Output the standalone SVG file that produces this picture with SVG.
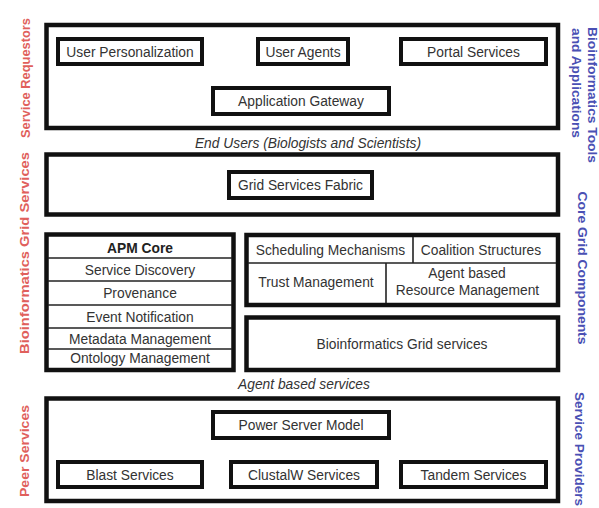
<svg xmlns="http://www.w3.org/2000/svg" width="599" height="508" viewBox="0 0 599 508">
<style>
.big{fill:#fff;stroke:#111;stroke-width:4.5}
.box{fill:#fff;stroke:#111;stroke-width:4}
.div{stroke:#222;stroke-width:1.6;fill:none}
.t{font-family:"Liberation Sans",Arial,sans-serif;font-size:13.8px;fill:#333;text-anchor:middle}
.b{font-weight:bold;fill:#222}
.i{font-style:italic}
.sl{font-family:"Liberation Sans",Arial,sans-serif;font-size:13.5px;font-weight:bold;fill:#e0605c}
.sr{font-family:"Liberation Sans",Arial,sans-serif;font-size:13.5px;font-weight:bold;fill:#4a50b4}
</style>
<rect width="599" height="508" fill="#fff"/>

<g id="side-labels">
<text class="sl" text-anchor="middle" transform="translate(30,78) rotate(-90)" textLength="120" lengthAdjust="spacingAndGlyphs">Service Requestors</text>
<text class="sl" text-anchor="middle" transform="translate(29,253) rotate(-90)" textLength="202" lengthAdjust="spacingAndGlyphs">Bioinformatics Grid Services</text>
<text class="sl" text-anchor="middle" transform="translate(29,451) rotate(-90)" textLength="92" lengthAdjust="spacingAndGlyphs">Peer Services</text>
<text class="sr" transform="translate(588,27) rotate(90)" textLength="136" lengthAdjust="spacingAndGlyphs">Bioinformatics Tools</text>
<text class="sr" transform="translate(572,28) rotate(90)" textLength="110" lengthAdjust="spacingAndGlyphs">and Applications</text>
<text class="sr" text-anchor="middle" transform="translate(578,268) rotate(90)" textLength="153" lengthAdjust="spacingAndGlyphs">Core Grid Components</text>
<text class="sr" transform="translate(575,392) rotate(90)">Service Providers</text>
</g>

<g id="service-requestors">
<rect class="big" x="46.5" y="25" width="511.5" height="103"/>
</g>
<g id="user-personalization">
<rect class="box" x="58" y="39" width="144" height="25"/>
<text class="t" x="130" y="56.5">User Personalization</text>
</g>
<g id="user-agents">
<rect class="box" x="258" y="39" width="90" height="25"/>
<text class="t" x="303" y="56.5">User Agents</text>
</g>
<g id="portal-services">
<rect class="box" x="401" y="39" width="145" height="25"/>
<text class="t" x="473.5" y="56.5">Portal Services</text>
</g>
<g id="application-gateway">
<rect class="box" x="213" y="88" width="176" height="26"/>
<text class="t" x="301" y="106">Application Gateway</text>
</g>

<text class="t i" x="308" y="148">End Users (Biologists and Scientists)</text>

<g id="grid-services">
<rect class="big" x="46.5" y="154.5" width="511.5" height="60"/>
</g>
<g id="grid-services-fabric">
<rect class="box" x="229" y="172" width="143" height="26"/>
<text class="t" x="300.5" y="190">Grid Services Fabric</text>
</g>

<g id="apm-core">
<rect class="big" x="46.5" y="234.5" width="187" height="135.5"/>
<line class="div" x1="48" y1="258" x2="232" y2="258"/>
<line class="div" x1="48" y1="281" x2="232" y2="281"/>
<line class="div" x1="48" y1="305" x2="232" y2="305"/>
<line class="div" x1="48" y1="328" x2="232" y2="328"/>
<line class="div" x1="48" y1="349" x2="232" y2="349"/>
<text class="t b" x="140" y="252.5">APM Core</text>
<text class="t" x="140" y="274.5">Service Discovery</text>
<text class="t" x="140" y="298">Provenance</text>
<text class="t" x="140" y="321.5">Event Notification</text>
<text class="t" x="140" y="343.5">Metadata Management</text>
<text class="t" x="140" y="363">Ontology Management</text>
</g>

<g id="core-components">
<rect class="big" x="246.5" y="235" width="311.5" height="70"/>
<line class="div" x1="248" y1="263" x2="556" y2="263"/>
<line class="div" x1="413" y1="237" x2="413" y2="263"/>
<line class="div" x1="386" y1="263" x2="386" y2="303"/>
<text class="t" x="330.5" y="255">Scheduling Mechanisms</text>
<text class="t" x="481" y="255">Coalition Structures</text>
<text class="t" x="316" y="287">Trust Management</text>
<text class="t" x="467" y="278">Agent based</text>
<text class="t" x="467.5" y="295">Resource Management</text>
</g>

<g id="bioinformatics-grid-services">
<rect class="big" x="246.5" y="317.5" width="311.5" height="52.5"/>
<text class="t" x="402" y="348.5">Bioinformatics Grid services</text>
</g>

<text class="t i" x="304" y="388.5">Agent based services</text>

<g id="peer-services">
<rect class="big" x="46.5" y="398.5" width="511.5" height="102.5"/>
</g>
<g id="power-server-model">
<rect class="box" x="213" y="412" width="176" height="26"/>
<text class="t" x="301" y="430">Power Server Model</text>
</g>
<g id="blast-services">
<rect class="box" x="58" y="462" width="144" height="25"/>
<text class="t" x="130" y="479.5">Blast Services</text>
</g>
<g id="clustalw-services">
<rect class="box" x="231" y="462" width="146" height="25"/>
<text class="t" x="304" y="479.5">ClustalW Services</text>
</g>
<g id="tandem-services">
<rect class="box" x="401" y="462" width="145" height="25"/>
<text class="t" x="473.5" y="479.5">Tandem Services</text>
</g>
<g id="connectors"/>
</svg>
